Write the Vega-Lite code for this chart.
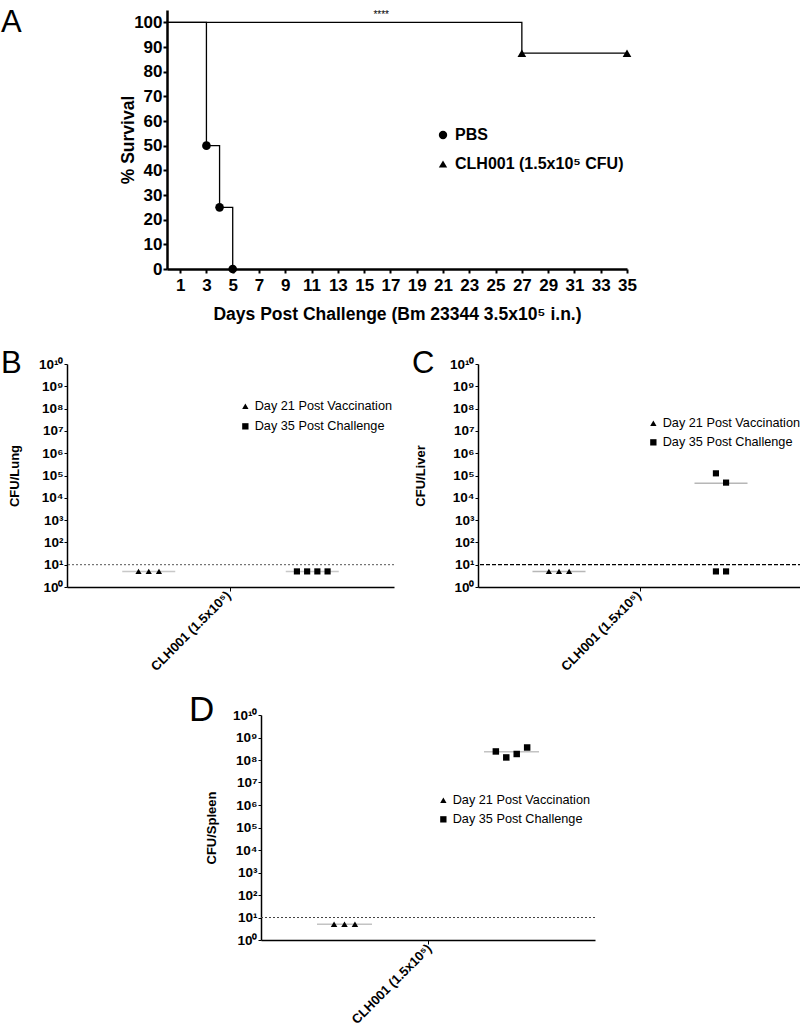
{
  "$schema": "https://vega.github.io/schema/vega-lite/v6.json",
  "padding": {"top": 6, "left": -6, "right": 0, "bottom": 0},
  "background": "white",
  "config": {
    "font": "Liberation Sans",
    "view": {"stroke": null},
    "axis": {"grid": false, "domainColor": "black", "tickColor": "black", "labelColor": "black", "titleColor": "black", "labelFont": "Liberation Sans", "titleFont": "Liberation Sans"},
    "title": {"color": "black", "font": "Liberation Sans", "fontWeight": "normal"},
    "legend": {"labelColor": "black", "labelFont": "Liberation Sans", "labelLimit": 0}
  },
  "datasets": {
    "survival": [
      {"group": "PBS", "day": 0, "pct": 100, "marker": false},
      {"group": "PBS", "day": 3, "pct": 50, "marker": true},
      {"group": "PBS", "day": 4, "pct": 25, "marker": true},
      {"group": "PBS", "day": 5, "pct": 0, "marker": true},
      {"group": "CLH001 (1.5x10⁵ CFU)", "day": 0, "pct": 100, "marker": false},
      {"group": "CLH001 (1.5x10⁵ CFU)", "day": 27, "pct": 87.5, "marker": true},
      {"group": "CLH001 (1.5x10⁵ CFU)", "day": 35, "pct": 87.5, "marker": true}
    ],
    "significance": [
      {"label": "****", "day": 16.3, "pct": 103}
    ],
    "cfu": [
      {"organ": "Lung", "group": "Day 21 Post Vaccination", "slot": -1, "cfu": 5},
      {"organ": "Lung", "group": "Day 21 Post Vaccination", "slot": 0, "cfu": 5},
      {"organ": "Lung", "group": "Day 21 Post Vaccination", "slot": 1, "cfu": 5},
      {"organ": "Lung", "group": "Day 35 Post Challenge", "slot": -1.5, "cfu": 5},
      {"organ": "Lung", "group": "Day 35 Post Challenge", "slot": -0.5, "cfu": 5},
      {"organ": "Lung", "group": "Day 35 Post Challenge", "slot": 0.5, "cfu": 5},
      {"organ": "Lung", "group": "Day 35 Post Challenge", "slot": 1.5, "cfu": 5},
      {"organ": "Liver", "group": "Day 21 Post Vaccination", "slot": -1, "cfu": 5},
      {"organ": "Liver", "group": "Day 21 Post Vaccination", "slot": 0, "cfu": 5},
      {"organ": "Liver", "group": "Day 21 Post Vaccination", "slot": 1, "cfu": 5},
      {"organ": "Liver", "group": "Day 35 Post Challenge", "slot": -0.5, "cfu": 125000},
      {"organ": "Liver", "group": "Day 35 Post Challenge", "slot": 0.5, "cfu": 48000},
      {"organ": "Liver", "group": "Day 35 Post Challenge", "slot": -0.5, "cfu": 5},
      {"organ": "Liver", "group": "Day 35 Post Challenge", "slot": 0.5, "cfu": 5},
      {"organ": "Spleen", "group": "Day 21 Post Vaccination", "slot": -1, "cfu": 5},
      {"organ": "Spleen", "group": "Day 21 Post Vaccination", "slot": 0, "cfu": 5},
      {"organ": "Spleen", "group": "Day 21 Post Vaccination", "slot": 1, "cfu": 5},
      {"organ": "Spleen", "group": "Day 35 Post Challenge", "slot": -1.5, "cfu": 240000000},
      {"organ": "Spleen", "group": "Day 35 Post Challenge", "slot": -0.5, "cfu": 130000000},
      {"organ": "Spleen", "group": "Day 35 Post Challenge", "slot": 0.5, "cfu": 185000000},
      {"organ": "Spleen", "group": "Day 35 Post Challenge", "slot": 1.5, "cfu": 360000000}
    ],
    "medians": [
      {"organ": "Lung", "group": "Day 21 Post Vaccination", "cfu": 5},
      {"organ": "Lung", "group": "Day 35 Post Challenge", "cfu": 5},
      {"organ": "Liver", "group": "Day 21 Post Vaccination", "cfu": 5},
      {"organ": "Liver", "group": "Day 35 Post Challenge", "cfu": 45000},
      {"organ": "Spleen", "group": "Day 21 Post Vaccination", "cfu": 5},
      {"organ": "Spleen", "group": "Day 35 Post Challenge", "cfu": 230000000}
    ],
    "lod": [
      {"cfu": 10}
    ]
  },
  "columns": 1,
  "align": "none",
  "spacing": 19,
  "resolve": {"scale": {"shape": "independent", "xOffset": "independent"}, "legend": {"shape": "independent"}},
  "concat": [
    {
      "spacing": 0,
      "resolve": {"scale": {"shape": "independent"}, "legend": {"shape": "independent"}},
      "hconcat": [
        {"width": 1, "height": 319, "data": {"values": [{}]}, "mark": {"type": "point", "opacity": 0}, "encoding": {}},
        {
          "width": 460,
          "height": 259,
          "title": {"text": "A", "anchor": "start", "frame": "group", "dx": -166, "offset": -29, "fontSize": 31, "fontWeight": "normal"},
          "encoding": {
            "x": {"field": "day", "type": "quantitative", "scale": {"domain": [0, 35]},
              "axis": {"values": [1, 3, 5, 7, 9, 11, 13, 15, 17, 19, 21, 23, 25, 27, 29, 31, 33, 35], "title": "Days Post Challenge (Bm 23344 3.5x10⁵ i.n.)", "labelFontSize": 17, "labelFontWeight": "bold", "titleFontSize": 17.5, "titleFontWeight": "bold", "domainWidth": 2.5, "tickWidth": 2, "tickSize": 4, "labelPadding": 4, "titlePadding": 12, "labelFlush": false, "labelOverlap": false}},
            "y": {"field": "pct", "type": "quantitative", "scale": {"domain": [0, 105]},
              "axis": {"values": [0, 10, 20, 30, 40, 50, 60, 70, 80, 90, 100], "title": "% Survival", "labelFontSize": 17, "labelFontWeight": "bold", "titleFontSize": 17.5, "titleFontWeight": "bold", "domainWidth": 2.5, "tickWidth": 2, "tickSize": 4, "labelPadding": 1, "titlePadding": -4, "labelFlush": false, "labelOverlap": false}}
          },
          "layer": [
            {
              "data": {"name": "survival"},
              "mark": {"type": "line", "interpolate": "step-after", "color": "black", "strokeWidth": 1.3},
              "encoding": {"detail": {"field": "group", "type": "nominal"}}
            },
            {
              "data": {"name": "survival"},
              "transform": [{"filter": "datum.marker"}],
              "mark": {"type": "point", "filled": true, "opacity": 1, "color": "black", "size": 75},
              "encoding": {
                "shape": {"field": "group", "type": "nominal",
                  "scale": {"domain": ["PBS", "CLH001 (1.5x10⁵ CFU)"], "range": ["circle", "triangle-up"]},
                  "legend": {"orient": "none", "legendX": 268, "legendY": 117, "title": null, "labelFontSize": 16, "labelFontWeight": "bold", "symbolSize": 70, "symbolFillColor": "black", "symbolStrokeWidth": 0, "rowPadding": 13, "labelOffset": 4}}
              }
            },
            {
              "data": {"name": "significance"},
              "mark": {"type": "text", "fontSize": 10, "color": "black", "baseline": "middle"},
              "encoding": {"text": {"field": "label"}}
            }
          ]
        }
      ]
    },
    {
      "spacing": 0,
      "resolve": {"scale": {"shape": "independent", "xOffset": "independent"}, "legend": {"shape": "independent"}},
      "hconcat": [
        {"width": 1, "height": 1, "data": {"values": [{}]}, "mark": {"type": "point", "opacity": 0}, "encoding": {}},
        {
          "spacing": 17,
          "resolve": {"scale": {"shape": "independent", "xOffset": "independent"}, "legend": {"shape": "independent"}},
          "hconcat": [
            {
              "width": 327,
              "height": 223,
              "title": {"text": "B", "anchor": "start", "frame": "group", "dx": -66, "offset": -23, "fontSize": 31, "fontWeight": "normal"},
              "encoding": {
                "y": {"field": "cfu", "type": "quantitative", "scale": {"type": "log", "domain": [1, 10000000000]}, "title": "CFU/Lung",
                  "axis": {"values": [1, 10, 100, 1000, 10000, 100000, 1000000, 10000000, 100000000, 1000000000, 10000000000], "labelExpr": "'10' + ['⁰','¹','²','³','⁴','⁵','⁶','⁷','⁸','⁹','¹⁰'][round(log(datum.value)/LN10)]", "labelFontSize": 13.5, "labelFontWeight": "bold", "titleFontSize": 13, "titleFontWeight": "bold", "tickSize": 3, "domainWidth": 1.5, "labelPadding": 1, "titlePadding": 17, "labelFlush": false, "labelOverlap": false}}
              },
              "layer": [
                {"data": {"name": "lod"}, "mark": {"type": "rule", "strokeDash": [2, 2], "color": "#555", "strokeWidth": 1}, "encoding": {}},
                {
                  "data": {"name": "medians"},
                  "transform": [{"filter": "datum.organ === 'Lung'"}],
                  "mark": {"type": "tick", "orient": "horizontal", "color": "#b0b0b0", "size": 53, "thickness": 1.5},
                  "encoding": {"x": {"field": "group", "type": "nominal", "scale": {"domain": ["Day 21 Post Vaccination", "Day 35 Post Challenge"], "paddingInner": 0, "paddingOuter": 0},
                    "axis": {"values": ["Day 21 Post Vaccination"], "bandPosition": 1, "labelExpr": "'CLH001 (1.5x10⁵)'", "labelOffset": 80, "labelAngle": -45, "labelAlign": "right", "labelBaseline": "middle", "labelFontSize": 13, "labelFontWeight": "bold", "title": null, "tickSize": 4, "domainWidth": 1.5, "labelPadding": 2}}}
                },
                {
                  "data": {"name": "cfu"},
                  "transform": [{"filter": "datum.organ === 'Lung'"}],
                  "mark": {"type": "point", "filled": true, "opacity": 1, "color": "black", "size": 38},
                  "encoding": {
                    "x": {"field": "group", "type": "nominal", "scale": {"domain": ["Day 21 Post Vaccination", "Day 35 Post Challenge"], "paddingInner": 0, "paddingOuter": 0},
                      "axis": {"values": ["Day 21 Post Vaccination"], "bandPosition": 1, "labelExpr": "'CLH001 (1.5x10⁵)'", "labelOffset": 80, "labelAngle": -45, "labelAlign": "right", "labelBaseline": "middle", "labelFontSize": 13, "labelFontWeight": "bold", "title": null, "tickSize": 4, "domainWidth": 1.5, "labelPadding": 2}},
                    "xOffset": {"field": "slot", "type": "quantitative", "scale": {"domain": [-8, 8], "range": [0, 163.5]}},
                    "shape": {"field": "group", "type": "nominal", "scale": {"domain": ["Day 21 Post Vaccination", "Day 35 Post Challenge"], "range": ["triangle-up", "square"]},
                      "legend": {"orient": "none", "legendX": 172, "legendY": 36, "title": null, "labelFontSize": 12.7, "symbolSize": 40, "symbolFillColor": "black", "symbolStrokeWidth": 0, "rowPadding": 6, "labelOffset": 3}}
                  }
                }
              ]
            },
            {
              "width": 324,
              "height": 223,
              "title": {"text": "C", "anchor": "start", "frame": "group", "dx": -66, "offset": -23, "fontSize": 31, "fontWeight": "normal"},
              "encoding": {
                "y": {"field": "cfu", "type": "quantitative", "scale": {"type": "log", "domain": [1, 10000000000]}, "title": "CFU/Liver",
                  "axis": {"values": [1, 10, 100, 1000, 10000, 100000, 1000000, 10000000, 100000000, 1000000000, 10000000000], "labelExpr": "'10' + ['⁰','¹','²','³','⁴','⁵','⁶','⁷','⁸','⁹','¹⁰'][round(log(datum.value)/LN10)]", "labelFontSize": 13.5, "labelFontWeight": "bold", "titleFontSize": 13, "titleFontWeight": "bold", "tickSize": 3, "domainWidth": 1.5, "labelPadding": 1, "titlePadding": 22, "labelFlush": false, "labelOverlap": false}}
              },
              "layer": [
                {"data": {"name": "lod"}, "mark": {"type": "rule", "strokeDash": [4, 2], "color": "black", "strokeWidth": 1.3}, "encoding": {}},
                {
                  "data": {"name": "medians"},
                  "transform": [{"filter": "datum.organ === 'Liver'"}],
                  "mark": {"type": "tick", "orient": "horizontal", "color": "#999", "size": 53, "thickness": 1.5},
                  "encoding": {"x": {"field": "group", "type": "nominal", "scale": {"domain": ["Day 21 Post Vaccination", "Day 35 Post Challenge"], "paddingInner": 0, "paddingOuter": 0},
                    "axis": {"values": ["Day 21 Post Vaccination"], "bandPosition": 1, "labelExpr": "'CLH001 (1.5x10⁵)'", "labelOffset": 80, "labelAngle": -45, "labelAlign": "right", "labelBaseline": "middle", "labelFontSize": 13, "labelFontWeight": "bold", "title": null, "tickSize": 4, "domainWidth": 1.5, "labelPadding": 2}}}
                },
                {
                  "data": {"name": "cfu"},
                  "transform": [{"filter": "datum.organ === 'Liver'"}],
                  "mark": {"type": "point", "filled": true, "opacity": 1, "color": "black", "size": 38},
                  "encoding": {
                    "x": {"field": "group", "type": "nominal", "scale": {"domain": ["Day 21 Post Vaccination", "Day 35 Post Challenge"], "paddingInner": 0, "paddingOuter": 0},
                      "axis": {"values": ["Day 21 Post Vaccination"], "bandPosition": 1, "labelExpr": "'CLH001 (1.5x10⁵)'", "labelOffset": 80, "labelAngle": -45, "labelAlign": "right", "labelBaseline": "middle", "labelFontSize": 13, "labelFontWeight": "bold", "title": null, "tickSize": 4, "domainWidth": 1.5, "labelPadding": 2}},
                    "xOffset": {"field": "slot", "type": "quantitative", "scale": {"domain": [-8, 8], "range": [0, 162]}},
                    "shape": {"field": "group", "type": "nominal", "scale": {"domain": ["Day 21 Post Vaccination", "Day 35 Post Challenge"], "range": ["triangle-up", "square"]},
                      "legend": {"orient": "none", "legendX": 169, "legendY": 53, "title": null, "labelFontSize": 12.7, "symbolSize": 40, "symbolFillColor": "black", "symbolStrokeWidth": 0, "rowPadding": 5, "labelOffset": 3}}
                  }
                }
              ]
            }
          ]
        }
      ]
    },
    {
      "spacing": 0,
      "resolve": {"scale": {"shape": "independent", "xOffset": "independent"}, "legend": {"shape": "independent"}},
      "hconcat": [
        {"width": 192, "height": 1, "data": {"values": [{}]}, "mark": {"type": "point", "opacity": 0}, "encoding": {}},
        {
          "width": 334,
          "height": 225,
          "title": {"text": "D", "anchor": "start", "frame": "group", "dx": -72, "offset": -20, "fontSize": 35, "fontWeight": "normal"},
          "encoding": {
            "y": {"field": "cfu", "type": "quantitative", "scale": {"type": "log", "domain": [1, 10000000000]}, "title": "CFU/Spleen",
              "axis": {"values": [1, 10, 100, 1000, 10000, 100000, 1000000, 10000000, 100000000, 1000000000, 10000000000], "labelExpr": "'10' + ['⁰','¹','²','³','⁴','⁵','⁶','⁷','⁸','⁹','¹⁰'][round(log(datum.value)/LN10)]", "labelFontSize": 13.5, "labelFontWeight": "bold", "titleFontSize": 13, "titleFontWeight": "bold", "tickSize": 3, "domainWidth": 1.5, "labelPadding": 1, "titlePadding": 14, "labelFlush": false, "labelOverlap": false}}
          },
          "layer": [
            {"data": {"name": "lod"}, "mark": {"type": "rule", "strokeDash": [2, 2], "color": "#444", "strokeWidth": 1}, "encoding": {}},
            {
              "data": {"name": "medians"},
              "transform": [{"filter": "datum.organ === 'Spleen'"}],
              "mark": {"type": "tick", "orient": "horizontal", "color": "#aaa", "size": 55, "thickness": 1.5},
              "encoding": {"x": {"field": "group", "type": "nominal", "scale": {"domain": ["Day 21 Post Vaccination", "Day 35 Post Challenge"], "paddingInner": 0, "paddingOuter": 0},
                "axis": {"values": ["Day 21 Post Vaccination"], "bandPosition": 1, "labelExpr": "'CLH001 (1.5x10⁵)'", "labelOffset": 85, "labelAngle": -45, "labelAlign": "right", "labelBaseline": "middle", "labelFontSize": 13, "labelFontWeight": "bold", "title": null, "tickSize": 4, "domainWidth": 1.5, "labelPadding": 2}}}
            },
            {
              "data": {"name": "cfu"},
              "transform": [{"filter": "datum.organ === 'Spleen'"}],
              "mark": {"type": "point", "filled": true, "opacity": 1, "color": "black", "size": 42},
              "encoding": {
                "x": {"field": "group", "type": "nominal", "scale": {"domain": ["Day 21 Post Vaccination", "Day 35 Post Challenge"], "paddingInner": 0, "paddingOuter": 0},
                  "axis": {"values": ["Day 21 Post Vaccination"], "bandPosition": 1, "labelExpr": "'CLH001 (1.5x10⁵)'", "labelOffset": 85, "labelAngle": -45, "labelAlign": "right", "labelBaseline": "middle", "labelFontSize": 13, "labelFontWeight": "bold", "title": null, "tickSize": 4, "domainWidth": 1.5, "labelPadding": 2}},
                "xOffset": {"field": "slot", "type": "quantitative", "scale": {"domain": [-8, 8], "range": [0, 167]}},
                "shape": {"field": "group", "type": "nominal", "scale": {"domain": ["Day 21 Post Vaccination", "Day 35 Post Challenge"], "range": ["triangle-up", "square"]},
                  "legend": {"orient": "none", "legendX": 176, "legendY": 79, "title": null, "labelFontSize": 12.7, "symbolSize": 40, "symbolFillColor": "black", "symbolStrokeWidth": 0, "rowPadding": 5, "labelOffset": 3}}
              }
            }
          ]
        }
      ]
    }
  ]
}
